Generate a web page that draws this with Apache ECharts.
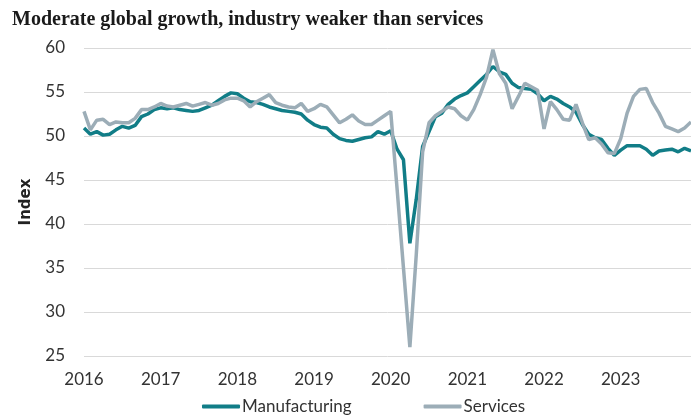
<!DOCTYPE html>
<html style="height: 100%">

<head>
	<meta charset="utf-8">
</head>

<body style="height: 100%; margin: 0; background: #fff">
	<div id="container" style="width: 691px; height: 417px;"></div>
	<script type="text/javascript" src="https://cdn.jsdelivr.net/npm/echarts@6/dist/echarts.min.js"></script>
	<script type="text/javascript">
		// years on the x axis, one category per month
		let years = ['2016', '2017', '2018', '2019', '2020', '2021', '2022', '2023'];
		let months = [];
		for (let y of years) {
			for (let m = 1; m <= 12; m++) {
				months.push(y + '-' + (m < 10 ? '0' + m : m));
			}
		}

		// values, Jan 2016 .. Dec 2023
		let manufacturing = [
			50.9, 50.2, 50.5, 50.1, 50.2, 50.7, 51.1, 50.9, 51.2, 52.2, 52.5, 53.0,
			53.2, 53.1, 53.2, 53.0, 52.9, 52.8, 52.9, 53.2, 53.5, 54.0, 54.5, 54.9,
			54.8, 54.3, 53.9, 53.8, 53.6, 53.3, 53.1, 52.9, 52.8, 52.7, 52.5, 51.8,
			51.3, 51.0, 50.9, 50.2, 49.7, 49.5, 49.4, 49.6, 49.8, 49.9, 50.5, 50.2,
			50.6, 48.5, 47.3, 37.8, 42.8, 48.8, 50.5, 52.2, 52.6, 53.6, 54.2, 54.6,
			54.9, 55.6, 56.3, 57.0, 57.9, 57.3, 57.0, 56.0, 55.5, 55.4, 55.3, 54.8,
			54.0, 54.5, 54.2, 53.7, 53.3, 52.7, 51.3, 50.2, 49.8, 49.6, 48.6, 47.8,
			48.4, 48.9, 48.9, 48.9, 48.5, 47.8, 48.3, 48.4, 48.5, 48.2, 48.6, 48.3
		];
		let services = [
			52.8, 50.7, 51.8, 51.9, 51.3, 51.6, 51.5, 51.5, 52.0, 53.0, 53.0, 53.3,
			53.7, 53.4, 53.3, 53.5, 53.7, 53.4, 53.6, 53.8, 53.5, 53.7, 54.1, 54.3,
			54.3, 54.0, 53.3, 53.9, 54.3, 54.7, 53.8, 53.5, 53.3, 53.2, 53.7, 52.8,
			53.1, 53.6, 53.3, 52.4, 51.5, 51.9, 52.4, 51.7, 51.3, 51.3, 51.8, 52.3,
			52.8, 44.0, 35.0, 26.0, 36.5, 48.2, 51.5, 52.3, 52.8, 53.3, 53.1, 52.3,
			51.8, 53.0, 54.7, 56.7, 59.8, 57.1, 56.0, 53.1, 54.5, 56.0, 55.6, 55.2,
			50.8, 53.9, 53.0, 51.9, 51.8, 53.6, 51.5, 49.6, 49.8, 49.1, 48.1, 48.0,
			49.7, 52.6, 54.5, 55.3, 55.4, 53.8, 52.6, 51.1, 50.8, 50.5, 50.9, 51.6
		];
		let yTicks = { min: 25, max: 60, step: 5 };

		let dom = document.getElementById("container");
		let myChart = echarts.init(dom);
		let labelFont = 'Lato';

		let option = {
			animation: false,
			title: {
				text: 'Moderate global growth, industry weaker than services',
				left: 7,
				top: 5,
				textStyle: {
					fontFamily: 'Liberation Serif',
					fontWeight: 'bold',
					fontSize: 20,
					color: '#1a1a1a'
				}
			},
			grid: {
				left: 84,
				right: 0,
				top: 48,
				bottom: 61
			},
			legend: {
				bottom: -3,
				left: 197,
				itemGap: 72,
				itemWidth: 38,
				itemHeight: 4,
				icon: 'roundRect',
				textStyle: {
					fontFamily: labelFont,
					fontSize: 17,
					color: '#333',
					padding: [0, 0, 0, -3]
				},
				data: ['Manufacturing', 'Services']
			},
			xAxis: {
				type: 'category',
				boundaryGap: false,
				data: months,
				axisLine: { show: false },
				axisTick: { show: false },
				axisLabel: {
					interval: 11,
					margin: 15,
					fontFamily: labelFont,
					fontSize: 17,
					color: '#333',
					formatter: function (v) { return v.slice(0, 4); }
				}
			},
			yAxis: {
				type: 'value',
				min: yTicks.min,
				max: yTicks.max,
				interval: yTicks.step,
				name: 'Index',
				nameLocation: 'middle',
				nameGap: 50,
				nameTextStyle: {
					fontFamily: 'DejaVu Sans',
					fontWeight: 'bold',
					fontSize: 15,
					color: '#222'
				},
				axisLine: { show: false },
				axisTick: { show: false },
				axisLabel: {
					margin: 19,
					fontFamily: labelFont,
					fontSize: 17,
					color: '#333'
				},
				splitLine: {
					lineStyle: { color: '#d9d9d9', width: 1 }
				}
			},
			series: [
				{
					name: 'Manufacturing',
					type: 'line',
					data: manufacturing,
					symbol: 'none',
					color: '#117d87',
					lineStyle: { width: 3.5, color: '#117d87' }
				},
				{
					name: 'Services',
					type: 'line',
					data: services,
					symbol: 'none',
					color: '#9cadb7',
					lineStyle: { width: 3.5, color: '#9cadb7' }
				}
			]
		};

		myChart.setOption(option);
	</script>
</body>
</html>
